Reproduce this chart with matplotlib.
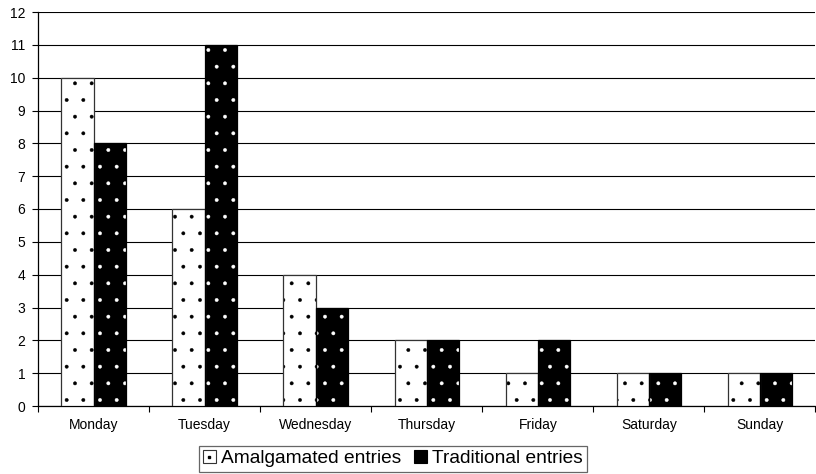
import matplotlib
matplotlib.use("Agg")
import matplotlib.pyplot as plt
import numpy as np
from matplotlib.patches import Patch
from matplotlib.lines import Line2D
from matplotlib.legend_handler import HandlerTuple

categories = ["Monday", "Tuesday", "Wednesday", "Thursday", "Friday", "Saturday", "Sunday"]
amalgamated = [10, 6, 4, 2, 1, 1, 1]
traditional = [8, 11, 3, 2, 2, 1, 1]
series_names = ["Amalgamated entries", "Traditional entries"]

plt.rcParams['font.family'] = ['Liberation Sans', 'DejaVu Sans']
plt.rcParams['hatch.linewidth'] = 0.3

fig = plt.figure(figsize=(8.16, 4.74), dpi=100)
ax = fig.add_axes([38/816, 1-406/474, 1-38/816 - 0.5/816, (406-12)/474])

x = np.arange(len(categories))
w = 0.29

# Amalgamated: white with black dots
ax.bar(x - w/2, amalgamated, w, color='white', edgecolor='black', hatch='.', linewidth=0, zorder=3)
ax.bar(x - w/2, amalgamated, w, fill=False, edgecolor='#333333', linewidth=0.9, zorder=4)
# Traditional: black with white dots
ax.bar(x + w/2, traditional, w, color='black', edgecolor='white', hatch='.', linewidth=0, zorder=3)
ax.bar(x + w/2, traditional, w, fill=False, edgecolor='black', linewidth=0.9, zorder=4)

ax.set_xlim(-0.5, len(categories) - 0.5)
ax.set_ylim(0, 12)
ax.set_yticks(range(0, 13))
ax.yaxis.grid(True, color='black', linewidth=0.8, zorder=0)
ax.set_axisbelow(True)

ax.set_xticks(np.arange(-0.5, len(categories) + 0.5, 1))
ax.set_xticklabels([])
ax.set_xticks(x, minor=True)
ax.set_xticklabels(categories, minor=True)
ax.tick_params(axis='x', which='major', length=4, direction='out', width=0.8)
ax.tick_params(axis='x', which='minor', length=0, pad=9, labelsize=10)
ax.tick_params(axis='y', length=4.5, width=0.8, labelsize=10, pad=4.5)

for s in ['top', 'right']:
    ax.spines[s].set_visible(False)
ax.spines['left'].set_linewidth(0.9)
ax.spines['bottom'].set_linewidth(0.9)

h_amal = (Patch(facecolor='white', edgecolor='#333333', linewidth=0.8),
          Line2D([], [], marker='s', markersize=1.8, color='black', linestyle='none'))
h_trad = (Patch(facecolor='black', edgecolor='black', linewidth=0.8),
          Line2D([], [], marker='s', markersize=1.5, color='black', linestyle='none'))
leg = fig.legend([h_amal, h_trad], series_names, loc='upper left',
                 bbox_to_anchor=(199/816, 1 - 446/474),
                 handler_map={tuple: HandlerTuple(ndivide=1)},
                 ncol=2, frameon=True, fancybox=False, edgecolor='#404040', fontsize=13.8,
                 handlelength=0.65, handleheight=0.65, handletextpad=0.3, columnspacing=0.65,
                 borderpad=0.22, borderaxespad=0.0)
leg.get_frame().set_linewidth(0.9)

fig.savefig("out.png", dpi=100)
